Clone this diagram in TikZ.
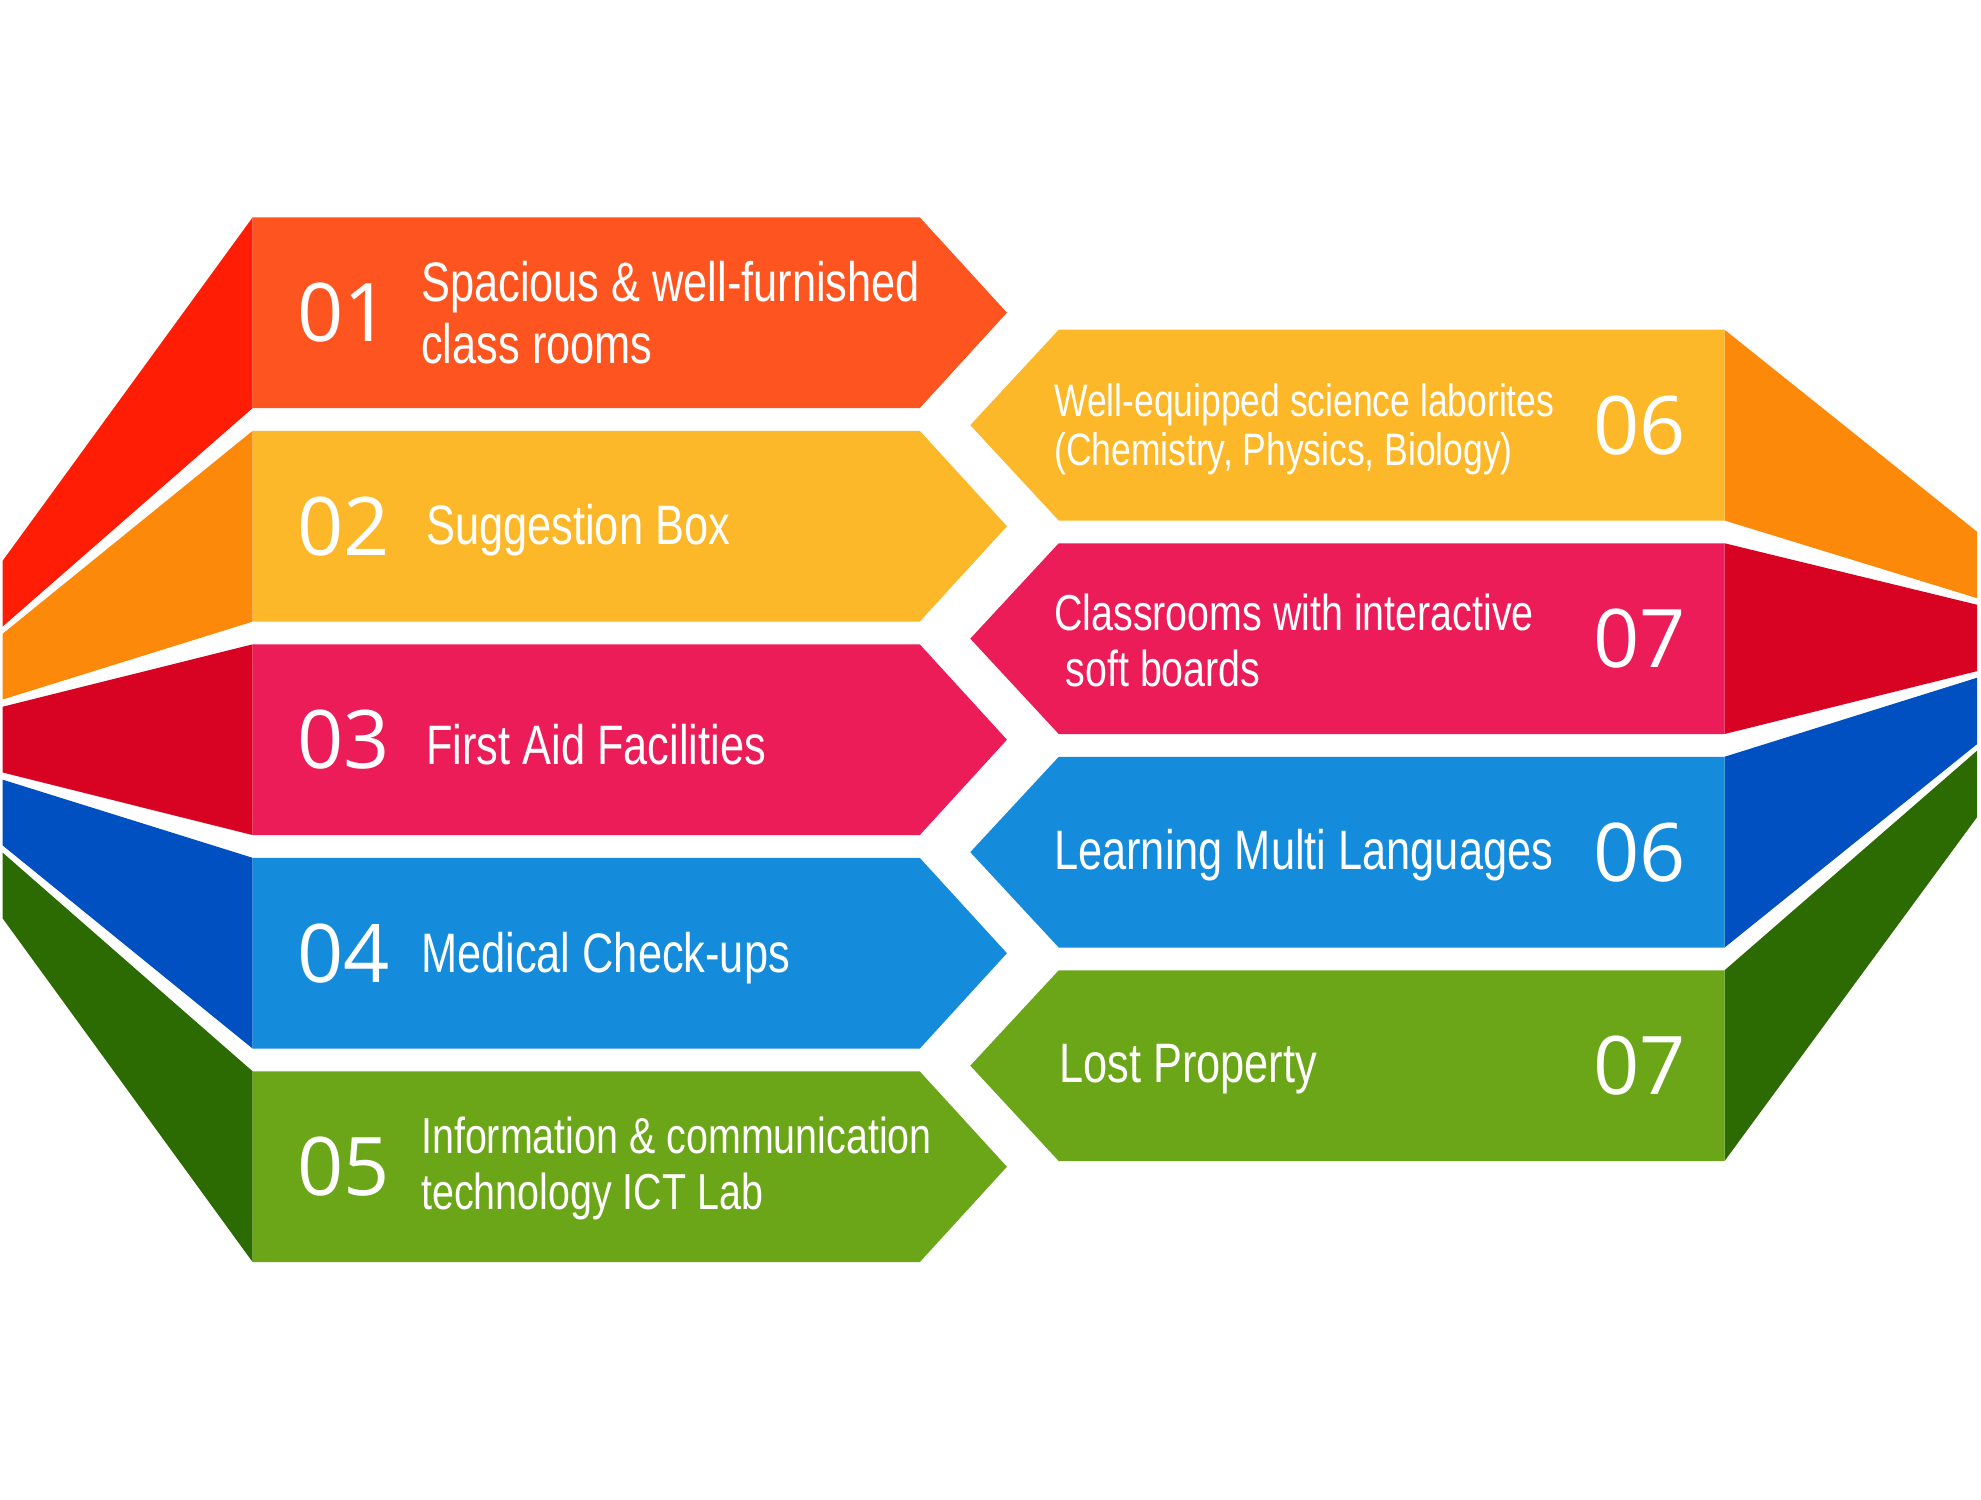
\documentclass[tikz,border=0pt]{standalone}
\usepackage{fontspec}
\setmainfont{Liberation Sans}
\newfontfamily\labelfont[FakeStretch=0.78]{Liberation Sans}
\newfontfamily\numfont{Open Sans}

\definecolor{redorange}{HTML}{FE5520}
\definecolor{redside}{HTML}{FF1D06}
\definecolor{yellowbox}{HTML}{FDB829}
\definecolor{orangeside}{HTML}{FD890A}
\definecolor{pinkbox}{HTML}{EB1C57}
\definecolor{crimsonside}{HTML}{D80322}
\definecolor{bluebox}{HTML}{148BDB}
\definecolor{blueside}{HTML}{0150C1}
\definecolor{greenbox}{HTML}{6AA617}
\definecolor{greenside}{HTML}{2B6B02}

\tikzset{
  labeltext/.style={text=white, inner sep=0pt, anchor=west, align=left,
    font=\labelfont\fontsize{22}{24.5}\selectfont},
  numtext/.style={text=white, inner sep=0pt,
    font=\numfont\fontsize{32}{32}\selectfont},
}

\begin{document}
\begin{tikzpicture}[x=0.5pt,y=-0.5pt]

% Page
\fill[white] (0,0) rectangle (1568,1187);
\useasboundingbox (0,0) rectangle (1568,1187);

% Left column: side panels and arrow boxes
\foreach \i/\boxcol/\sidecol in {0/redorange/redside,1/yellowbox/orangeside,
    2/pinkbox/crimsonside,3/bluebox/blueside,4/greenbox/greenside}{
  \pgfmathsetmacro\top{172+169*\i}
  \pgfmathsetmacro\bot{\top+151}
  \pgfmathsetmacro\mid{\top+75.5}
  \pgfmathsetmacro\lt{444+57.7*\i}
  \pgfmathsetmacro\lb{\lt+52}
  \fill[\sidecol] (200,\top) -- (200,\bot) -- (2,\lb) -- (2,\lt) -- cycle;
  \fill[\boxcol] (200,\top) -- (728,\top) -- (797,\mid) -- (728,\bot) -- (200,\bot) -- cycle;
}

% Right column: side panels and arrow boxes
\foreach \j/\boxcol/\sidecol in {0/yellowbox/orangeside,1/pinkbox/crimsonside,
    2/bluebox/blueside,3/greenbox/greenside}{
  \pgfmathsetmacro\top{261+169*\j}
  \pgfmathsetmacro\bot{\top+151}
  \pgfmathsetmacro\mid{\top+75.5}
  \pgfmathsetmacro\rt{421+57.7*\j}
  \pgfmathsetmacro\rb{\rt+52.5}
  \fill[\sidecol] (1365,\top) -- (1565,\rt) -- (1565,\rb) -- (1365,\bot) -- cycle;
  \fill[\boxcol] (768,\mid) -- (838,\top) -- (1365,\top) -- (1365,\bot) -- (838,\bot) -- cycle;
}

% Left numbers
\node[numtext] (num1) at (272,247.5) {01};
\node[numtext] (num2) at (272,416.5) {02};
\node[numtext] (num3) at (272,585.5) {03};
\node[numtext] (num4) at (272,754.5) {04};
\node[numtext] (num5) at (272,923.5) {05};

% Left labels
\node[labeltext] (lab1) at (333,247.5) {Spacious \& well-furnished\\class rooms};
\node[labeltext] (lab2) at (337,420) {Suggestion Box};
\node[labeltext] (lab3) at (337,589) {First Aid Facilities};
\node[labeltext] (lab4) at (333,758) {Medical Check-ups};
\node[labeltext, font=\labelfont\fontsize{20}{22}\selectfont] (lab5) at (333,925)
  {Information \& communication\\technology ICT Lab};

% Right numbers
\node[numtext] (num6) at (1298,336.5) {06};
\node[numtext] (num7) at (1298,505.5) {07};
\node[numtext] (num8) at (1298,674.5) {06};
\node[numtext] (num9) at (1298,843.5) {07};

% Right labels
\node[labeltext, font=\labelfont\fontsize{18}{19.5}\selectfont] (lab6) at (834,340)
  {Well-equipped science laborites\\(Chemistry, Physics, Biology)};
\node[labeltext, font=\labelfont\fontsize{20}{22}\selectfont] (lab7) at (834,507)
  {Classrooms with interactive\\\hspace*{4.5pt}soft boards};
\node[labeltext] (lab8) at (834,677) {Learning Multi Languages};
\node[labeltext] (lab9) at (838,846) {Lost Property};

\end{tikzpicture}
\end{document}
